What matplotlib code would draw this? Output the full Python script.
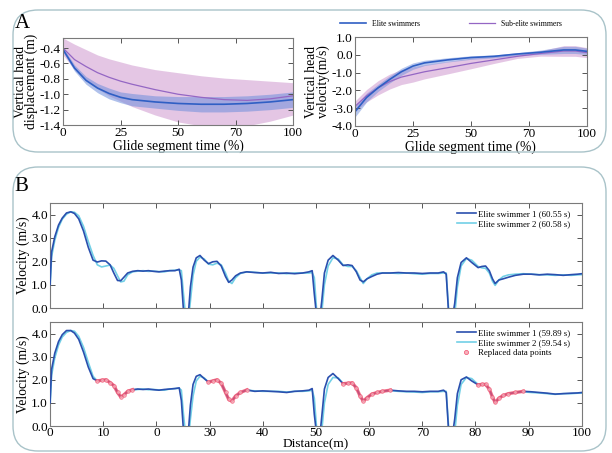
import numpy as np
import matplotlib
matplotlib.use('Agg')
import matplotlib.pyplot as plt
from matplotlib.patches import FancyBboxPatch
from matplotlib.lines import Line2D

plt.rcParams['font.family'] = ['Liberation Serif', 'DejaVu Serif']
plt.rcParams['axes.unicode_minus'] = False

# ---------------- Panel A data ----------------
glide_t = [0, 5, 10, 15, 20, 25, 30, 40, 50, 60, 70, 80, 90, 100]
elite_disp = [-0.42, -0.66, -0.82, -0.92, -0.99, -1.04, -1.07, -1.10, -1.12, -1.13, -1.13, -1.12, -1.10, -1.07]
elite_disp_sd = [0.03, 0.04, 0.05, 0.06, 0.07, 0.07, 0.08, 0.08, 0.09, 0.10, 0.10, 0.10, 0.10, 0.10]
sub_disp = [-0.40, -0.55, -0.64, -0.72, -0.78, -0.83, -0.87, -0.94, -1.00, -1.04, -1.07, -1.08, -1.06, -1.02]
sub_disp_hi = [-0.27, -0.35, -0.42, -0.49, -0.54, -0.58, -0.62, -0.68, -0.72, -0.76, -0.79, -0.81, -0.83, -0.85]
sub_disp_lo = [-0.49, -0.68, -0.82, -0.93, -1.02, -1.09, -1.16, -1.27, -1.36, -1.41, -1.43, -1.41, -1.35, -1.27]

glide_t2 = [0, 5, 10, 15, 20, 25, 30, 40, 50, 60, 70, 80, 90, 95, 100]
elite_vel = [-3.20, -2.40, -1.85, -1.38, -0.95, -0.63, -0.45, -0.28, -0.15, -0.08, 0.05, 0.15, 0.28, 0.28, 0.20]
elite_vel_sd = [0.30, 0.25, 0.20, 0.20, 0.20, 0.18, 0.15, 0.12, 0.10, 0.08, 0.08, 0.12, 0.20, 0.20, 0.18]
sub_vel = [-2.90, -2.30, -1.85, -1.50, -1.25, -1.10, -0.95, -0.72, -0.48, -0.28, -0.08, 0.08, 0.22, 0.22, 0.13]
sub_vel_sd = [0.30, 0.35, 0.40, 0.42, 0.42, 0.43, 0.40, 0.35, 0.30, 0.20, 0.12, 0.15, 0.30, 0.30, 0.28]

# ---------------- Panel B data ----------------
dist = [0.0, 0.3, 0.9, 1.6, 2.3, 3.1, 3.9, 4.6, 5.4, 6.3, 7.2, 8.1, 8.9, 9.7, 10.5, 11.3, 12.0, 12.7, 13.3, 13.9,
        14.6, 15.5, 16.5, 17.5, 18.5, 19.5, 20.5, 21.5, 22.5, 23.5, 24.3, 24.7, 25.1, 25.6,
        26.0, 26.4, 26.9, 27.5, 28.2, 29.0, 29.8, 30.6, 31.4, 32.2, 33.0, 33.6, 34.2, 34.9, 35.8, 37.0,
        38.5, 40.0, 41.5, 43.0, 44.5, 46.0, 47.5, 48.7, 49.3, 49.7, 50.2,
        50.7, 51.1, 51.6, 52.3, 53.2, 54.2, 55.1, 56.0, 56.8, 57.6, 58.3, 58.9, 59.6, 60.5, 61.5, 62.5,
        64.0, 65.5, 67.0, 68.5, 70.0, 71.5, 73.0, 74.0, 74.5, 75.0,
        75.6, 76.1, 76.6, 77.3, 78.3, 79.3, 80.5, 81.2, 81.9, 82.6, 83.2, 83.7, 84.4, 85.2, 86.2, 87.5,
        89.0, 90.5, 92.0, 93.5, 95.0, 96.5, 98.0, 99.2, 100.0]

top_s1 = [1.0, 2.4, 3.05, 3.55, 3.85, 4.07, 4.12, 4.05, 3.82, 3.3, 2.6, 2.05, 1.97, 2.02, 2.01, 1.85, 1.5, 1.18, 1.17, 1.32,
          1.5, 1.57, 1.6, 1.58, 1.6, 1.57, 1.55, 1.58, 1.6, 1.6, 1.66, 1.2, -0.1, -0.6,
          -0.3, 0.9, 1.75, 2.15, 2.25, 2.05, 1.9, 1.98, 2.0, 1.8, 1.35, 1.1, 1.2, 1.38, 1.5, 1.55,
          1.52, 1.5, 1.53, 1.48, 1.5, 1.47, 1.5, 1.55, 1.6, 0.6, -0.5,
          -0.5, 0.3, 1.5, 2.05, 2.25, 2.05, 1.82, 1.85, 1.82, 1.55, 1.2, 1.12, 1.25, 1.35, 1.45, 1.5,
          1.5, 1.52, 1.5, 1.5, 1.48, 1.5, 1.5, 1.55, 1.45, -0.4,
          -0.5, 0.2, 1.3, 1.95, 2.15, 1.95, 1.73, 1.78, 1.8, 1.6, 1.25, 1.05, 1.2, 1.25, 1.32, 1.4,
          1.45, 1.45, 1.42, 1.45, 1.43, 1.4, 1.43, 1.45, 1.47]
top_s2 = [0.8, 2.2, 2.9, 3.45, 3.8, 4.02, 4.12, 4.1, 3.95, 3.5, 2.85, 2.25, 1.85, 1.76, 1.8, 1.84, 1.7, 1.38, 1.12, 1.15,
          1.42, 1.55, 1.58, 1.6, 1.57, 1.58, 1.56, 1.55, 1.6, 1.62, 1.63, 1.6, 0.6, -0.6,
          -0.6, 0.3, 1.4, 2.0, 2.18, 2.1, 1.88, 1.85, 1.92, 1.85, 1.5, 1.15, 1.05, 1.3, 1.48, 1.55,
          1.53, 1.5, 1.5, 1.5, 1.47, 1.5, 1.5, 1.5, 1.52, 1.3, -0.3,
          -0.8, -0.2, 1.0, 1.8, 2.15, 2.1, 1.85, 1.78, 1.78, 1.6, 1.3, 1.05, 1.25, 1.42, 1.5, 1.5,
          1.5, 1.48, 1.5, 1.47, 1.45, 1.48, 1.48, 1.5, 1.5, -0.2,
          -0.8, -0.3, 0.9, 1.8, 2.12, 2.05, 1.78, 1.72, 1.7, 1.5, 1.15, 0.97, 1.2, 1.35, 1.42, 1.45,
          1.47, 1.45, 1.43, 1.42, 1.4, 1.42, 1.4, 1.42, 1.43]

bot_s1 = [1.0, 2.45, 3.15, 3.65, 3.95, 4.13, 4.13, 4.02, 3.75, 3.2, 2.55, 2.05, 1.95, 1.98, 2.0, 1.88, 1.75, 1.45, 1.26, 1.35,
          1.5, 1.57, 1.6, 1.58, 1.6, 1.57, 1.55, 1.58, 1.6, 1.62, 1.65, 1.1, -0.2, -0.7,
          -0.3, 0.9, 1.8, 2.15, 2.22, 2.05, 1.9, 1.95, 2.0, 1.85, 1.45, 1.15, 1.08, 1.3, 1.45, 1.56,
          1.5, 1.52, 1.5, 1.48, 1.45, 1.5, 1.52, 1.55, 1.62, 0.5, -0.5,
          -0.5, 0.4, 1.6, 2.1, 2.27, 2.05, 1.83, 1.85, 1.87, 1.65, 1.3, 1.08, 1.22, 1.38, 1.45, 1.5,
          1.55, 1.52, 1.5, 1.5, 1.48, 1.5, 1.5, 1.55, 1.45, -0.4,
          -0.5, 0.3, 1.4, 2.0, 2.12, 1.95, 1.78, 1.8, 1.8, 1.6, 1.25, 1.02, 1.2, 1.32, 1.4, 1.45,
          1.5, 1.48, 1.45, 1.42, 1.38, 1.4, 1.42, 1.43, 1.45]
bot_s2 = [0.8, 2.2, 2.95, 3.5, 3.85, 4.05, 4.13, 4.1, 3.88, 3.4, 2.75, 2.15, 1.95, 1.98, 2.0, 1.88, 1.74, 1.45, 1.25, 1.33,
          1.48, 1.56, 1.58, 1.6, 1.57, 1.58, 1.56, 1.55, 1.6, 1.62, 1.63, 1.55, 0.5, -0.6,
          -0.6, 0.3, 1.3, 1.95, 2.15, 2.08, 1.9, 1.95, 2.0, 1.85, 1.45, 1.15, 1.08, 1.3, 1.45, 1.55,
          1.52, 1.5, 1.5, 1.5, 1.47, 1.5, 1.5, 1.52, 1.55, 1.2, -0.3,
          -0.8, -0.2, 1.0, 1.8, 2.1, 2.08, 1.85, 1.83, 1.85, 1.65, 1.3, 1.08, 1.22, 1.38, 1.45, 1.5,
          1.53, 1.5, 1.48, 1.47, 1.45, 1.48, 1.48, 1.5, 1.5, -0.2,
          -0.8, -0.3, 0.9, 1.8, 2.1, 2.05, 1.8, 1.8, 1.78, 1.6, 1.25, 1.02, 1.2, 1.32, 1.4, 1.45,
          1.48, 1.45, 1.43, 1.4, 1.37, 1.4, 1.4, 1.42, 1.42]

replaced_ranges = [(8.5, 15.5), (29.8, 37.0), (55.1, 64.0), (80.5, 89.0)]

dist_ticks = [0, 10, 20, 30, 40, 50, 60, 70, 80, 90, 100]
dist_ticklabels = ['0', '10', '0', '30', '40', '50', '60', '70', '80', '90', '100']

# colours
c_elite = '#2f5fc4'
c_elite_band = '#6f8fdc'
c_sub = '#9466c4'
c_sub_band = '#dcb4dc'
c_s1 = '#2a4fae'
c_s2 = '#72d0e6'
c_red = '#f0506e'
frame_c = '#7a7a7a'

fig = plt.figure(figsize=(6.12, 4.53), dpi=100)

# rounded panel boxes (inches)
for (x0, y0, x1, y1) in [(0.13, 4.53 - 1.52, 6.06, 4.53 - 0.10), (0.13, 4.53 - 4.51, 6.06, 4.53 - 1.67)]:
    fig.patches.append(FancyBboxPatch((x0, y0), x1 - x0, y1 - y0,
                                      boxstyle='round,pad=0,rounding_size=0.25',
                                      transform=fig.dpi_scale_trans, fill=False,
                                      edgecolor='#a9c3c9', linewidth=1.0))

fig.text(0.024, 0.948, 'A', fontsize=15, va='center')
fig.text(0.024, 0.588, 'B', fontsize=15, va='center')


def style_axes(ax, fs=9.5):
    ax.tick_params(direction='in', top=True, right=True, length=3.5, width=0.7,
                   colors='#555555', labelcolor='black', labelsize=fs, pad=1.5)
    for s in ax.spines.values():
        s.set_color(frame_c)
        s.set_linewidth(0.8)


pct_ticks = [0, 25, 50, 75, 100]
pct_labels = ['0', '25', '50', '70', '100']

# ---- A left ----
ax1 = fig.add_axes([0.103, 0.724, 0.376, 0.192])
ax1.fill_between(glide_t, sub_disp_lo, sub_disp_hi, color=c_sub_band, alpha=0.75, lw=0)
lo = np.array(elite_disp) - np.array(elite_disp_sd)
hi = np.array(elite_disp) + np.array(elite_disp_sd)
ax1.fill_between(glide_t, lo, hi, color=c_elite_band, alpha=0.55, lw=0)
ax1.plot(glide_t, sub_disp, color=c_sub, lw=0.9)
ax1.plot(glide_t, elite_disp, color=c_elite, lw=1.2)
ax1.set_xlim(0, 100)
ax1.set_ylim(-1.4, -0.27)
ax1.set_xticks(pct_ticks)
ax1.set_xticklabels(pct_labels)
ax1.set_yticks([-0.4, -0.6, -0.8, -1.0, -1.2, -1.4])
ax1.set_yticklabels(['-0.4', '-0.6', '-0.8', '-1.0', '-1.2', '-1.4'])
ax1.set_xlabel('Glide segment time (%)', fontsize=9.8, labelpad=0)
ax1.set_ylabel('Vertical head\ndisplacement (m)', fontsize=9.8, labelpad=1, linespacing=0.85)
style_axes(ax1)

# ---- A right ----
ax2 = fig.add_axes([0.580, 0.722, 0.379, 0.196])
lo = np.array(sub_vel) - np.array(sub_vel_sd)
hi = np.array(sub_vel) + np.array(sub_vel_sd)
ax2.fill_between(glide_t2, lo, hi, color=c_sub_band, alpha=0.75, lw=0)
lo = np.array(elite_vel) - np.array(elite_vel_sd)
hi = np.array(elite_vel) + np.array(elite_vel_sd)
ax2.fill_between(glide_t2, lo, hi, color=c_elite_band, alpha=0.5, lw=0)
ax2.plot(glide_t2, sub_vel, color=c_sub, lw=0.9)
ax2.plot(glide_t2, elite_vel, color=c_elite, lw=1.2)
ax2.set_xlim(0, 100)
ax2.set_ylim(-4, 1)
ax2.set_xticks(pct_ticks)
ax2.set_xticklabels(pct_labels)
ax2.set_yticks([1, 0, -1, -2, -3, -4])
ax2.set_yticklabels(['1.0', '0.0', '-1.0', '-2.0', '-3.0', '-4.0'])
ax2.set_xlabel('Glide segment time (%)', fontsize=9.8, labelpad=0)
ax2.set_ylabel('Vertical head\nvelocity(m/s)', fontsize=9.8, labelpad=1, linespacing=0.85)
style_axes(ax2)

hA = [Line2D([], [], color=c_elite, lw=1.2), Line2D([], [], color=c_sub, lw=0.9)]
fig.legend(hA, ['Elite swimmers', 'Sub-elite swimmers'], loc='center', bbox_to_anchor=(0.737, 0.948),
           ncol=2, frameon=False, fontsize=5.5, handlelength=3.3, columnspacing=6.5, handletextpad=0.8)

# ---- B ----
dist_a = np.array(dist)
axb1 = fig.add_axes([0.0817, 0.320, 0.869, 0.232])
axb2 = fig.add_axes([0.0817, 0.0596, 0.869, 0.2296])

axb1.plot(dist, top_s2, color=c_s2, lw=1.2, zorder=2)
axb1.plot(dist, top_s1, color=c_s1, lw=1.2, zorder=3)
axb2.plot(dist, bot_s2, color=c_s2, lw=1.2, zorder=2)
axb2.plot(dist, bot_s1, color=c_s1, lw=1.2, zorder=3)
bot_s1_a = np.array(bot_s1)
for (d0, d1) in replaced_ranges:
    m = (dist_a >= d0) & (dist_a <= d1)
    axb2.plot(dist_a[m], bot_s1_a[m], color=c_red, lw=2.4, alpha=0.8, zorder=4,
              marker='o', ms=2.6, mfc='#f8b0bc', mec=c_red, mew=0.5)

for ax in (axb1, axb2):
    ax.set_xlim(0, 100)
    ax.set_ylim(0, 4.5)
    ax.set_xticks(dist_ticks)
    ax.set_yticks([0, 1, 2, 3, 4])
    ax.set_yticklabels(['0.0', '1.0', '2.0', '3.0', '4.0'])
    ax.set_ylabel('Velocity (m/s)', fontsize=9.8, labelpad=1)
    style_axes(ax)
axb1.set_xticklabels([])
axb2.set_xticklabels(dist_ticklabels)
axb2.tick_params(axis='x', pad=1)
axb2.set_xlabel('Distance(m)', fontsize=9.6, labelpad=-1)

h1 = [Line2D([], [], color=c_s1, lw=1.2), Line2D([], [], color=c_s2, lw=1.2)]
axb1.legend(h1, ['Elite swimmer 1 (60.55 s)', 'Elite swimmer 2 (60.58 s)'], loc='upper right',
            frameon=False, fontsize=6.3, handlelength=2.1, handletextpad=0.3, labelspacing=0.25,
            borderaxespad=0.3, bbox_to_anchor=(0.99, 0.99))
h2 = [Line2D([], [], color=c_s1, lw=1.2), Line2D([], [], color=c_s2, lw=1.2),
      Line2D([], [], ls='none', marker='o', ms=3, mfc='#f8b0bc', mec=c_red, mew=0.5)]
axb2.legend(h2, ['Elite swimmer 1 (59.89 s)', 'Elite swimmer 2 (59.54 s)', 'Replaced data points'],
            loc='upper right', frameon=False, fontsize=6.3, handlelength=2.1, handletextpad=0.3,
            labelspacing=0.2, borderaxespad=0.3, bbox_to_anchor=(0.99, 0.99))

fig.savefig('out.png', dpi=100)
